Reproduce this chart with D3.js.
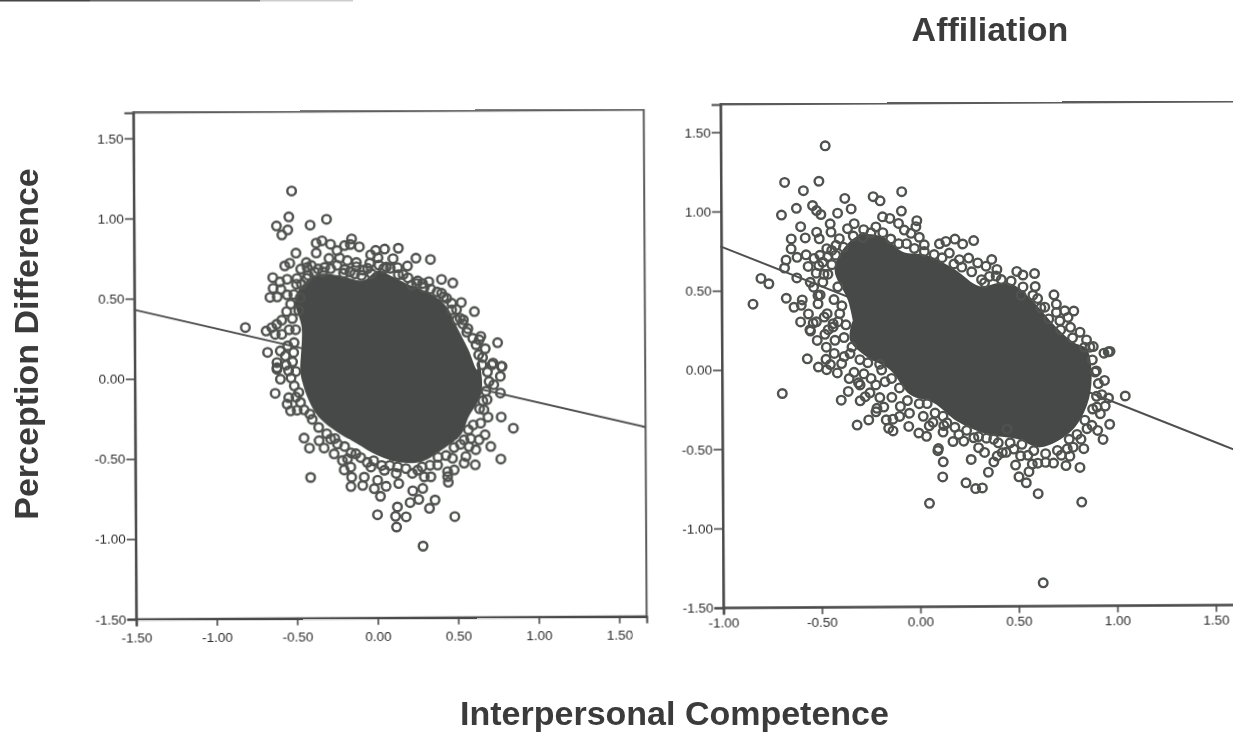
<!DOCTYPE html>
<html>
<head>
<meta charset="utf-8">
<script src="https://cdnjs.cloudflare.com/ajax/libs/d3/7.8.5/d3.min.js"></script>
<style>
  html, body { margin: 0; background: #fff; overflow: hidden; }
  text { font-family: "Liberation Sans", Arial, sans-serif; }
</style>
</head>
<body>
<div id="chart"></div>
<script>
// ======= data
var title = "Affiliation";
var xTitle = "Interpersonal Competence";
var yTitle = "Perception Difference";

var yTicks = [-1.5, -1, -0.5, 0, 0.5, 1, 1.5];
var yTickLabels = ["-1.50", "-1.00", "-0.50", "0.00", "0.50", "1.00", "1.50"];
var leftXTicks = [-1.5, -1, -0.5, 0, 0.5, 1, 1.5];
var leftXTickLabels = ["-1.50", "-1.00", "-0.50", "0.00", "0.50", "1.00", "1.50"];
var rightXTicks = [-1, -0.5, 0, 0.5, 1, 1.5];
var rightXTickLabels = ["-1.00", "-0.50", "0.00", "0.50", "1.00", "1.50"];

// fit lines, end to end
var leftFit = [[-1.5, 0.43], [1.67, -0.32]];
var rightFit = [[-1.005, 0.78], [1.594, -0.52]];

// the overplotted middle of each cloud, no single rings can be read in there
var leftCore = [[-.472,.044],[-.462,.314],[-.503,.491],[-.441,.595],[-.348,.647],[-.224,.636],[-.079,.605],[.014,.667],
  [.108,.626],[.211,.574],[.335,.522],[.439,.439],[.501,.314],[.573,.168],[.625,.044],[.636,.106],[.656,-.019],[.646,-.123],
  [.573,-.247],[.522,-.362],[.418,-.445],[.273,-.528],[.128,-.528],[.004,-.487],[-.12,-.414],[-.244,-.341],[-.358,-.247],
  [-.42,-.143],[-.462,-.019]];
var rightCore = [[-.325,.246],[-.359,.435],[-.426,.624],[-.393,.739],[-.299,.845],[-.181,.834],[-.08,.739],[.039,.718],
  [.174,.634],[.31,.519],[.411,.54],[.479,.529],[.563,.445],[.631,.351],[.699,.256],[.784,.162],[.851,.12],[.876,-.048],
  [.851,-.237],[.766,-.405],[.614,-.5],[.496,-.447],[.343,-.416],[.191,-.332],[.073,-.216],[-.046,-.164],[-.147,-.006],
  [-.266,.078],[-.35,.183],[-.333,.309]];

var leftPoints = [[-.52,1.166],[-.538,1.004],[-.615,.948],[-.545,.923],[-.582,.892],[-.304,.988],[-.406,.952],[-.369,.84],
  [-.333,.854],[-.28,.832],[-.369,.778],[-.495,.778],[-.149,.865],[-.193,.823],[-.157,.83],[-.101,.815],[-.24,.792],[-.29,.744],
  [-.224,.746],[-.176,.73],[-.12,.717],[.056,.8],[.141,.805],[0,.792],[-.031,.765],[.014,.746],[-.037,.713],[.108,.74],[.25,.742],
  [.34,.734],[.197,.694],[.135,.684],[.408,.609],[.478,.586],[.329,.595],[.253,.584],[.29,.584],[.53,.464],[.611,.407],[.754,.212],
  [.65,.252],[.64,.231],[.677,.175],[.725,.085],[.776,.064],[.636,.137],[.542,.356],[.501,.356],[.563,.279],[-.565,.699],[-.534,.715],
  [-.431,.719],[-.466,.678],[-.426,.688],[-.358,.678],[-.317,.688],[-.64,.626],[-.551,.615],[-.596,.599],[-.638,.559],[-.59,.553],
  [-.658,.503],[-.613,.505],[-.551,.518],[-.493,.584],[-.462,.584],[-.555,.414],[-.586,.36],[-.617,.335],[-.648,.314],[-.683,.293],
  [-.812,.316],[-.627,.272],[-.586,.272],[-.675,.16],[-.596,.168],[-.617,.096],[-.565,.137],[-.513,.158],[-.089,.636],[-.027,.647],
  [-.13,.647],[-.193,.674],[.066,.688],[.222,.574],[.408,.522],[.439,.491],[.47,.418],[.522,.366],[-.617,.064],
  [-.629,-.096],[-.545,-.123],[-.555,-.164],[-.534,-.206],[-.493,-.202],[-.472,-.154],[-.482,-.091],[-.596,-.008],[-.617,.054],
  [-.545,.044],[-.414,-.227],[-.451,-.376],[-.418,-.439],[-.358,-.393],[-.327,-.439],[-.412,-.622],[-.265,-.476],[-.214,-.518],
  [-.182,-.507],[-.203,-.576],[-.162,-.559],[-.157,-.622],[-.162,-.68],[-.089,-.674],[-.079,-.622],[-.017,-.694],[.021,-.742],
  [.056,-.68],[.004,-.642],[.135,-.663],[.222,-.709],[.284,-.694],[.259,-.763],[.205,-.782],[.126,-.809],[.36,-.767],[.325,-.819],
  [.002,-.857],[.114,-.867],[.18,-.871],[.12,-.934],[.482,-.871],[.284,-1.054],[.443,-.657],[.439,-.622],[.48,-.58],[.439,-.59],
  [.542,-.538],[.611,-.549],[.47,-.507],[.553,-.497],[.77,-.514],[.708,-.435],[.615,-.455],[.673,-.362],[.573,-.435],[.584,-.385],
  [.636,-.393],[.542,-.393],[.774,-.252],[.849,-.322],[.692,-.252],[.646,-.289],[.377,-.549],[.335,-.622],[.253,-.58],[.128,-.559],
  [.046,-.58],[-.037,-.559],[.77,-.102],[.77,.002],[.718,.075],[.781,.064],[.656,.075],[.729,-.05],[.687,-.143],[.667,-.206],
  [-.244,-.414],[-.286,-.383],[-.13,-.476],[.294,-.622],
  // band of packed rings round the middle
  [-.42,.64],[-.38,.66],[-.33,.66],[-.28,.68],[-.24,.7],[-.2,.65],[-.16,.66],[-.12,.69],[-.08,.67],[-.05,.68],[.02,.7],[.05,.68],
  [.09,.68],[.14,.64],[.17,.64],[.2,.62],[.26,.6],[.3,.56],[.34,.55],[.38,.53],[.42,.5],[.47,.46],[.5,.42],[.54,.33],[.57,.3],[.6,.24],
  [.62,.2],[.66,.12],[.69,.03],[.7,-.03],[.68,-.09],[.66,-.15],[.64,-.2],[.6,-.3],[.57,-.33],[.52,-.42],[.48,-.44],[.43,-.49],[.38,-.5],
  [.33,-.55],[.28,-.56],[.22,-.6],[.18,-.57],[.12,-.6],[.08,-.55],[.03,-.55],[-.02,-.52],[-.06,-.53],[-.1,-.5],[-.16,-.47],[-.2,-.43],
  [-.26,-.38],[-.31,-.35],[-.36,-.31],[-.4,-.26],[-.45,-.2],[-.5,-.12],[-.51,-.05],[-.53,0],[-.5,.04],[-.56,.08],[-.52,.1],[-.55,.2],
  [-.51,.22],[-.54,.3],[-.5,.3],[-.52,.37],[-.48,.42],[-.53,.46],[-.51,.52],[-.47,.5],[-.49,.62],[-.43,.62],[-.4,.7]];

var rightPoints = [[-.47,1.41],[-.677,1.181],[-.582,1.128],[-.503,1.187],[-.372,1.078],[-.228,1.088],[-.193,1.061],[-.083,1.118],
  [-.618,1.017],[-.694,.975],[-.536,1.034],[-.516,1.002],[-.494,.977],[-.409,.985],[-.34,1.011],[-.085,.996],[-.181,.96],[-.144,.95],
  [-.447,.918],[-.597,.901],[-.007,.935],[-.012,.897],[-.1,.918],[-.215,.897],[-.071,.876],[-.325,.918],[-.277,.88],[-.359,.887],
  [-.516,.866],[-.574,.83],[-.645,.824],[-.503,.824],[-.646,.761],[-.672,.691],[-.616,.708],[-.57,.723],[-.68,.641],[-.618,.578],
  [-.8,.576],[-.76,.542],[-.672,.45],[-.591,.439],[-.633,.393],[-.596,.405],[-.841,.414],[-.465,.761],[-.46,.712],[-.506,.655],
  [-.519,.607],[-.533,.519],[-.486,.55],[-.511,.466],[-.511,.414],[-.465,.351],[-.536,.292],[-.553,.25],[-.443,.866],[-.401,.824],
  [.005,.83],[.03,.782],[.186,.817],[.225,.786],[.281,.807],[.14,.803],[.107,.788],[.157,.729],[.255,.697],[.372,.687],[.398,.624],
  [.394,.582],[.343,.645],[.301,.666],[.335,.54],[.208,.687],[-.037,.855],[-.418,.782],[-.486,.676],[-.435,.267],[-.401,.351],
  [.499,.611],[.53,.588],[.589,.597],[.592,.515],[.53,.513],[.604,.439],[.687,.462],[.699,.403],[.64,.384],[.699,.351],[.741,.361],
  [.787,.359],[.758,.319],[.716,.298],[.77,.256],[.818,.225],[.851,.176],[.885,.134],[.961,.1],
  [-.55,.242],[-.477,.221],[-.516,.183],[-.435,.288],[-.426,.183],[-.567,.067],[-.472,.063],[-.511,.015],[-.469,-.002],[-.415,-.023],
  [-.393,.036],[-.355,-.059],[-.308,-.086],[-.244,-.059],[-.396,-.195],[-.257,-.321],[-.316,-.353],[-.168,-.321],[-.156,-.374],
  [-.134,-.391],[-.134,-.317],[-.215,-.248],[-.274,-.174],[-.173,-.08],[-.139,-.179],[-.054,-.363],[.036,-.426],[-.003,-.405],
  [.069,-.338],[.124,-.359],[.096,-.504],[.093,-.517],[.12,-.588],[.117,-.683],[.049,-.849],[.235,-.721],[.284,-.758],[.318,-.754],
  [.349,-.655],[.262,-.574],[.377,-.59],[.394,-.553],[.42,-.532],[.487,-.611],[.504,-.685],[.541,-.723],[.601,-.792],[.822,-.847],
  [.814,-.628],[.743,-.616],[.834,-.51],[.932,-.452],[.966,-.357],[.905,-.395],[.851,-.384],[.64,-.595],[.555,-.653],[.572,-.605],
  [.513,-.553],[.763,-.557],[.2,-.416],[.225,-.458],[.276,-.437],[.377,-.447],[.445,-.384],[.876,-.363],[.919,-.29],[.944,-.242],
  [.961,-.191],[1.046,-.179],[.902,-.248],[.927,-.17],[.941,-.08],[.939,.092],[.97,.103],[.868,.13],[.893,-.027],[.75,-.51],[.479,-.51],
  [.14,-.342],[-.096,-.237],[-.19,-.006],[-.35,.099],[-.695,-.151],[.624,-1.355],
  // band of packed rings round the middle
  [-.42,.72],[-.38,.77],[-.33,.84],[-.28,.83],[-.24,.86],[-.18,.86],[-.14,.82],[-.1,.79],[-.06,.79],[-.02,.76],[.03,.74],[.08,.72],
  [.12,.7],[.18,.66],[.22,.64],[.27,.61],[.32,.56],[.36,.58],[.42,.56],[.47,.55],[.52,.46],[.58,.46],[.62,.38],[.66,.31],[.72,.24],
  [.78,.19],[.84,.13],[.88,.05],[.9,-.02],[.91,-.1],[.9,-.18],[.88,-.26],[.84,-.33],[.8,-.42],[.76,-.45],[.7,-.52],[.64,-.54],[.58,-.52],
  [.52,-.48],[.46,-.47],[.4,-.47],[.34,-.44],[.3,-.43],[.24,-.39],[.18,-.37],[.12,-.3],[.08,-.28],[.04,-.22],[0,-.22],[-.06,-.2],
  [-.1,-.12],[-.14,-.06],[-.2,.03],[-.26,.04],[-.3,.06],[-.34,.14],[-.38,.2],[-.37,.28],[-.41,.3],[-.39,.4],[-.43,.44],[-.41,.52],
  [-.46,.6],[-.44,.66],[-.44,.75],[-.3,-.1],[-.25,-.15],[-.2,-.18],[-.28,-.03],[-.22,-.1],[-.33,-.02],[-.38,.08],[-.43,.1],[-.47,.14],
  [-.45,.03],[-.36,-.14],[-.3,-.2],[-.22,-.27],[-.18,-.24],[-.1,-.3],[-.05,-.28],[.02,-.3],[.05,-.36],[.12,-.4],[.17,-.46],[.3,-.5],
  [.33,-.53],[.44,-.53],[.55,-.55],[.6,-.6],[.68,-.6],[.72,-.55],[.78,-.5],[.82,-.45],[-.56,.65],[-.53,.7],[-.5,.72],[-.48,.6],[-.55,.55],
  [-.5,.47],[-.56,.35],[-.52,.3],[-.6,.3],[-.48,.33],[-.46,.25]];

// ======= page
var svg = d3.select("#chart").append("svg")
  .attr("width", 1233)
  .attr("height", 732)
  .style("display", "block");

// slight blur, the source is a scan
svg.append("filter").attr("id", "scan")
  .append("feGaussianBlur").attr("stdDeviation", 0.45);

var page = svg.append("g").attr("filter", "url(#scan)");

// dark edge of the scan at the top left
var edge = [[0, 90, "#444"], [90, 160, "#666"], [160, 260, "#777"], [260, 353, "#ccc"]];
page.selectAll("rect.edge")
  .data(edge)
  .enter()
  .append("rect")
  .attr("class", "edge")
  .attr("x", function(d) { return d[0]; })
  .attr("y", 0)
  .attr("width", function(d) { return d[1] - d[0]; })
  .attr("height", 1.5)
  .attr("fill", function(d) { return d[2]; });

function drawPanel(p) {
  var x = d3.scaleLinear().domain(p.xDomain).range(p.xRange);
  var y = d3.scaleLinear().domain(p.yDomain).range(p.yRange);

  var g = page.append("g")
    .attr("transform", "rotate(-0.33 " + p.cx + " " + p.cy + ")");

  // ======= frame
  g.append("rect")
    .attr("x", x(p.xDomain[0]))
    .attr("y", y(p.yDomain[1]))
    .attr("width", x(p.xDomain[1]) - x(p.xDomain[0]))
    .attr("height", y(p.yDomain[0]) - y(p.yDomain[1]))
    .attr("fill", "none")
    .attr("stroke", "#5c5c5c")
    .attr("stroke-width", 2);

  // ======= axes
  var xAxis = d3.axisBottom(x)
    .tickValues(p.xTicks)
    .tickSize(7)
    .tickPadding(p.xPad)
    .tickFormat(function(d, i) { return p.xLabels[i]; });
  var yAxis = d3.axisLeft(y)
    .tickValues(yTicks)
    .tickSize(9)
    .tickPadding(1)
    .tickFormat(function(d, i) { return yTickLabels[i]; });

  g.append("g").attr("transform", "translate(0," + y(p.yDomain[0]) + ")").call(xAxis);
  g.append("g").attr("transform", "translate(" + x(p.xDomain[0]) + ",0)").call(yAxis);
  g.selectAll(".domain").attr("stroke", "#4a4a4a").attr("stroke-width", 2);
  g.selectAll(".tick line").attr("stroke", "#4a4a4a").attr("stroke-width", 1.6);
  g.selectAll(".tick text")
    .attr("fill", "#2e2e2e")
    .attr("font-size", 13.5)
    .attr("font-family", '"Liberation Sans", Arial, sans-serif');

  // ======= fit line
  var line = d3.line()
    .x(function(d) { return x(d[0]); })
    .y(function(d) { return y(d[1]); });
  g.append("path")
    .attr("d", line(p.fit))
    .attr("fill", "none")
    .attr("stroke", "#505050")
    .attr("stroke-width", 2);

  // ======= solid middle
  g.append("path")
    .attr("d", line.curve(d3.curveCatmullRomClosed)(p.core))
    .attr("fill", "#474a48");

  // ======= rings
  g.selectAll("circle")
    .data(p.points)
    .enter()
    .append("circle")
    .attr("cx", function(d) { return x(d[0]); })
    .attr("cy", function(d) { return y(d[1]); })
    .attr("r", 4.3)
    .attr("fill", "none")
    .attr("stroke", "#505250")
    .attr("stroke-width", 2.4);
}

drawPanel({
  xDomain: [-1.5, 1.67], xRange: [134.8, 645.2],
  yDomain: [-1.5, 1.66], yRange: [617.75, 111.2],
  cx: 390, cy: 365, xPad: 7,
  xTicks: leftXTicks, xLabels: leftXTickLabels,
  fit: leftFit, core: leftCore, points: leftPoints
});

drawPanel({
  xDomain: [-1, 1.65], xRange: [722, 1244],
  yDomain: [-1.5, 1.675], yRange: [606.2, 103],
  cx: 977, cy: 355, xPad: 3,
  xTicks: rightXTicks, xLabels: rightXTickLabels,
  fit: rightFit, core: rightCore, points: rightPoints
});

// ======= titles
page.append("text")
  .attr("x", 990).attr("y", 41)
  .attr("text-anchor", "middle")
  .attr("font-size", 34).attr("font-weight", "bold")
  .attr("fill", "#3a3a3a")
  .text(title);

page.append("text")
  .attr("x", 674.5).attr("y", 725)
  .attr("text-anchor", "middle")
  .attr("font-size", 34).attr("font-weight", "bold")
  .attr("fill", "#3a3a3a")
  .text(xTitle);

page.append("text")
  .attr("transform", "translate(38,344) rotate(-90)")
  .attr("text-anchor", "middle")
  .attr("font-size", 34).attr("font-weight", "bold")
  .attr("fill", "#3a3a3a")
  .text(yTitle);
</script>
</body>
</html>
